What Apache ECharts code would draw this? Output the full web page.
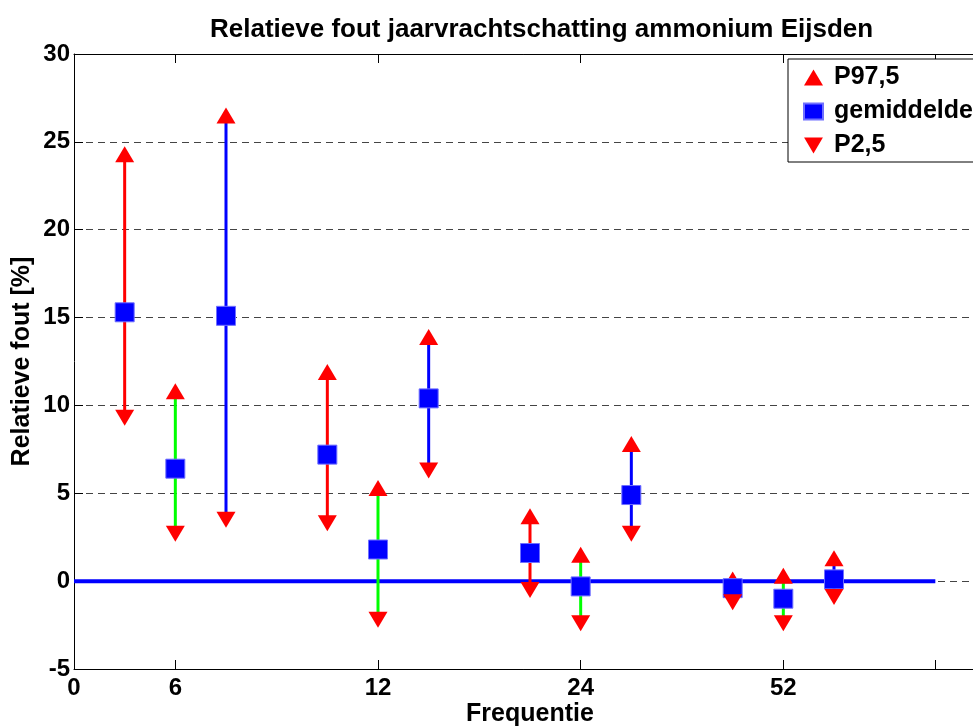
<!DOCTYPE html>
<html>
<head>
<meta charset="utf-8">
<script src="https://cdn.jsdelivr.net/npm/echarts@6/dist/echarts.min.js"></script>
<style>html,body{margin:0;padding:0;background:#fff}#c{width:973px;height:727px}</style>
</head>
<body>
<div id="c"></div>
<script>
// ---- data ----
const frequencies = ['6', '12', '24', '52'];          // group tick labels
const methodsPerGroup = 3;
// values per bar, in plot order (group 6: 3 bars, group 12: 3 bars, ...)
const p975       = [24.3, 10.8, 26.5,  11.9,  5.3, 13.9,  3.7,  1.5, 7.8,  0.1,  0.3,  1.3];
const gemiddelde = [15.3,  6.4, 15.1,   7.2,  1.8, 10.4,  1.6, -0.3, 4.9, -0.4, -1.0,  0.1];
const p25        = [ 9.3,  2.7,  3.5,   3.3, -2.2,  6.3, -0.5, -2.4, 2.7, -1.2, -2.4, -0.9];
const zeroLineX  = [0, 17];
const yTicks     = [-5, 30, 5]; // min, max, step

// ---- derived ----
const xPos = p975.map((_, i) => Math.floor(i / methodsPerGroup) * (methodsPerGroup + 1) + (i % methodsPerGroup) + 1);
const groupCenters = frequencies.map((_, g) => g * (methodsPerGroup + 1) + 2);
const xLabelMap = { 0: '0' };
groupCenters.forEach((c, g) => { xLabelMap[c] = frequencies[g]; });
const xLabelValues = [0].concat(groupCenters);
const xTickValues = xLabelValues.concat([zeroLineX[1]]);

const rangeColors = ['#ff0000', '#00ff00', '#0000ff'];
const FONT = 'Liberation Sans, Arial, sans-serif';

const chart = echarts.init(document.getElementById('c'), null, { renderer: 'canvas' });

const xAxisBase = {
  type: 'value', min: 0, max: 18,
  axisLine: { show: true, onZero: false, lineStyle: { color: '#000', width: 1 } },
  splitLine: { show: false }
};

chart.setOption({
  animation: false,
  backgroundColor: '#fff',
  title: {
    text: 'Relatieve fout jaarvrachtschatting ammonium Eijsden',
    left: 205, top: 12,
    textStyle: { fontFamily: FONT, fontWeight: 'bold', fontSize: 26, color: '#000' }
  },
  grid: { left: 74, top: 54, width: 912, height: 615, containLabel: false, outerBoundsMode: 'none' },
  legend: {
    orient: 'vertical', left: 788, top: 59,
    padding: [6, 40, 4, 15], itemGap: 9, itemWidth: 19, itemHeight: 16,
    borderColor: '#000', borderWidth: 1, backgroundColor: '#fff',
    textStyle: { fontFamily: FONT, fontWeight: 'bold', fontSize: 25, color: '#000', padding: [0, 0, 0, 6] },
    data: [
      { name: 'P97,5', icon: 'triangle' },
      { name: 'gemiddelde', icon: 'rect' },
      { name: 'P2,5', icon: 'path://M0,0L20,0L10,17Z' }
    ]
  },
  xAxis: [
    Object.assign({}, xAxisBase, {
      position: 'bottom',
      name: 'Frequentie', nameLocation: 'middle', nameGap: 33, nameMoveOverlap: false,
      nameTextStyle: { fontFamily: FONT, fontWeight: 'bold', fontSize: 25, color: '#000' },
      axisTick: { show: true, inside: true, length: 9, customValues: xTickValues, lineStyle: { color: '#000' } },
      axisLabel: {
        show: true, customValues: xLabelValues, margin: 7,
        formatter: v => (xLabelMap[v] !== undefined ? xLabelMap[v] : ''),
        fontFamily: FONT, fontWeight: 'bold', fontSize: 24, color: '#000'
      }
    }),
    Object.assign({}, xAxisBase, {
      position: 'top',
      axisTick: { show: true, inside: true, length: 9, customValues: xTickValues, lineStyle: { color: '#000' } },
      axisLabel: { show: false }
    })
  ],
  yAxis: [{
    type: 'value', min: yTicks[0], max: yTicks[1], interval: yTicks[2],
    axisLine: { show: true, lineStyle: { color: '#000', width: 1 } },
    axisTick: { show: true, inside: true, length: 9, lineStyle: { color: '#000' } },
    axisLabel: { margin: 4, fontFamily: FONT, fontWeight: 'bold', fontSize: 24, color: '#000' },
    splitLine: { show: true, lineStyle: { color: '#444', width: 1, type: [7, 5] } },
    name: 'Relatieve fout [%]', nameLocation: 'middle', nameGap: 39, nameMoveOverlap: false,
    nameTextStyle: { fontFamily: FONT, fontWeight: 'bold', fontSize: 25, color: '#000' }
  }],
  series: [
    {
      type: 'line', name: 'nul', silent: true, symbol: 'none', z: 2,
      data: zeroLineX.map(x => [x, 0]),
      lineStyle: { color: '#0000ff', width: 4 }
    },
    {
      type: 'custom', name: 'bereik', silent: true, z: 3,
      data: xPos.map((x, i) => [x, p25[i], p975[i], i % methodsPerGroup]),
      encode: { x: 0, y: [1, 2] },
      renderItem: (params, api) => {
        const a = api.coord([api.value(0), api.value(1)]);
        const b = api.coord([api.value(0), api.value(2)]);
        return {
          type: 'line',
          shape: { x1: a[0], y1: a[1], x2: b[0], y2: b[1] },
          style: { stroke: rangeColors[api.value(3)], lineWidth: 3 }
        };
      }
    },
    {
      type: 'scatter', name: 'P97,5', z: 4, symbol: 'triangle', symbolSize: [19, 16],
      itemStyle: { color: '#ff0000', opacity: 1 },
      data: xPos.map((x, i) => [x, p975[i]])
    },
    {
      type: 'scatter', name: 'gemiddelde', z: 5, symbol: 'rect', symbolSize: 19,
      itemStyle: { color: '#0000ff', borderColor: '#7070ff', borderWidth: 1, opacity: 1 },
      data: xPos.map((x, i) => [x, gemiddelde[i]])
    },
    {
      type: 'scatter', name: 'P2,5', z: 6, symbol: 'triangle', symbolRotate: 180, symbolSize: [19, 16],
      itemStyle: { color: '#ff0000', opacity: 1 },
      data: xPos.map((x, i) => [x, p25[i]])
    }
  ]
});
</script>
</body>
</html>
